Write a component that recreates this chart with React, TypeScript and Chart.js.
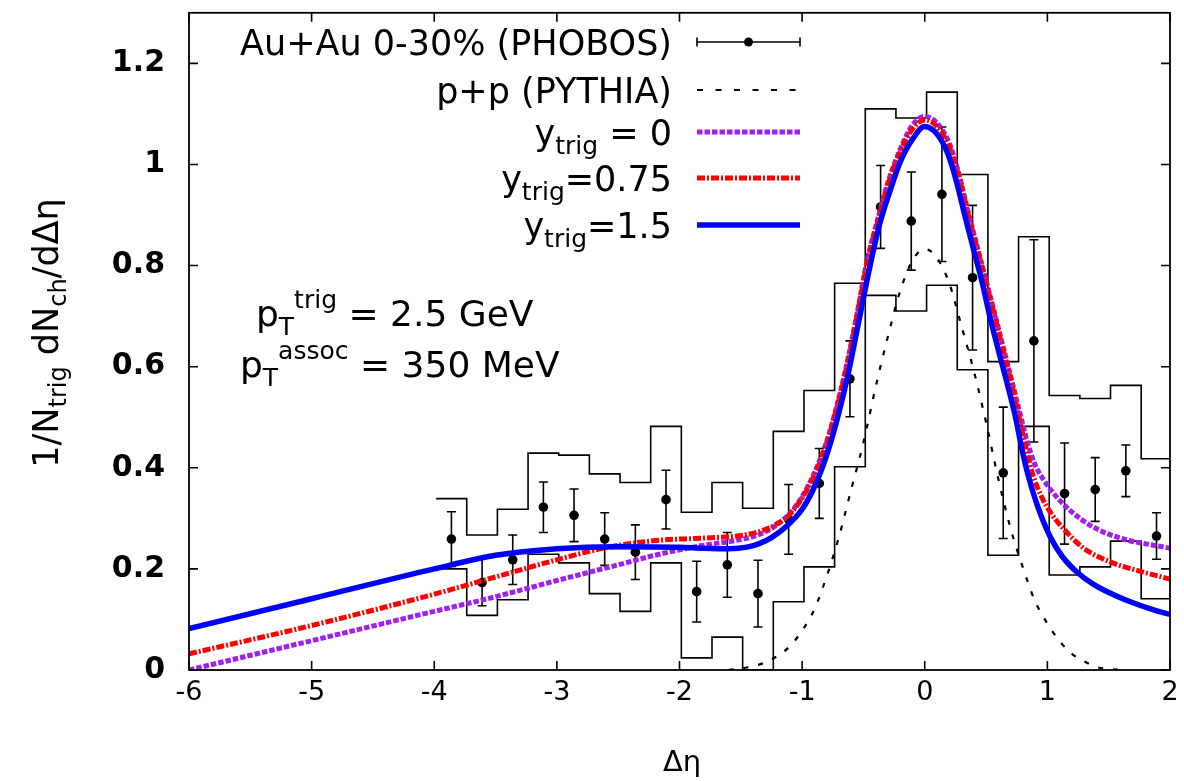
import React, { useEffect, useRef } from "react";
import { Chart, registerables } from "chart.js";

Chart.register(...registerables);

// ---------- data ----------
const xTickValues = [-6, -5, -4, -3, -2, -1, 0, 1, 2];
const xTickLabels = ["-6", "-5", "-4", "-3", "-2", "-1", "0", "1", "2"];
const yTickValues = [0, 0.2, 0.4, 0.6, 0.8, 1, 1.2];
const yTickLabels = ["0", "0.2", "0.4", "0.6", "0.8", "1", "1.2"];

const phobosX = [-3.86, -3.61, -3.36, -3.11, -2.86, -2.61, -2.36, -2.11, -1.86, -1.61, -1.36, -1.11, -0.86, -0.61, -0.36, -0.11, 0.14, 0.39, 0.64, 0.89, 1.14, 1.39, 1.64, 1.89];
const phobosY = [0.259, 0.173, 0.218, 0.322, 0.306, 0.259, 0.233, 0.337, 0.155, 0.208, 0.151, 0.298, 0.369, 0.576, 0.916, 0.888, 0.941, 0.776, 0.39, 0.651, 0.349, 0.357, 0.394, 0.265];
const phobosErr = [0.054, 0.046, 0.049, 0.05, 0.052, 0.052, 0.054, 0.058, 0.06, 0.064, 0.066, 0.069, 0.069, 0.075, 0.082, 0.097, 0.133, 0.143, 0.13, 0.2, 0.1, 0.063, 0.051, 0.046];

// systematic band (step histograms), bin edges and values
const binEdges = [-3.985, -3.735, -3.485, -3.235, -2.985, -2.735, -2.485, -2.235, -1.985, -1.735, -1.485, -1.235, -0.985, -0.735, -0.485, -0.235, 0.015, 0.265, 0.515, 0.765, 1.015, 1.265, 1.515, 1.765, 2.015];
const sysUpper = [0.339, 0.267, 0.318, 0.429, 0.425, 0.388, 0.371, 0.482, 0.312, 0.371, 0.32, 0.472, 0.553, 0.765, 1.11, 1.092, 1.143, 0.98, 0.61, 0.857, 0.543, 0.537, 0.563, 0.418];
const sysLower = [0.2, 0.108, 0.139, 0.229, 0.212, 0.151, 0.116, 0.212, 0.024, 0.065, 0.0, 0.135, 0.204, 0.402, 0.741, 0.71, 0.761, 0.594, 0.227, 0.482, 0.188, 0.204, 0.255, 0.141];

const pythiaCurve: [number, number][] = [
  [-1.6, 0], [-1.45, 0.005], [-1.3, 0.015], [-1.2, 0.028], [-1.1, 0.047], [-1.0, 0.078], [-0.9, 0.12], [-0.8, 0.185],
  [-0.7, 0.263], [-0.6, 0.357], [-0.5, 0.45], [-0.4, 0.56], [-0.3, 0.66], [-0.2, 0.75], [-0.1, 0.81], [0, 0.833],
  [0.1, 0.815], [0.2, 0.765], [0.3, 0.68], [0.4, 0.592], [0.5, 0.49], [0.6, 0.378], [0.7, 0.28], [0.8, 0.203],
  [0.9, 0.136], [1.0, 0.092], [1.1, 0.057], [1.2, 0.032], [1.3, 0.017], [1.4, 0.006], [1.5, 0.002], [1.6, 0],
];

const yTrig0Curve: [number, number][] = [
  [-6, 0.0], [-5, 0.058], [-4, 0.116], [-3.5, 0.145], [-3, 0.177], [-2.5, 0.208], [-2.2, 0.227], [-1.8, 0.247],
  [-1.55, 0.256], [-1.35, 0.268], [-1.2, 0.288], [-1.1, 0.31], [-1.0, 0.343],
  [-0.9, 0.39], [-0.8, 0.452], [-0.72, 0.52], [-0.64, 0.6], [-0.56, 0.695], [-0.47, 0.81], [-0.38, 0.895], [-0.3, 0.965],
  [-0.2, 1.03], [-0.1, 1.078], [0, 1.095], [0.1, 1.082], [0.2, 1.042], [0.28, 0.98], [0.35, 0.91], [0.42, 0.845],
  [0.49, 0.78], [0.56, 0.715], [0.63, 0.648], [0.7, 0.582], [0.77, 0.514], [0.84, 0.448], [0.9, 0.406], [0.97, 0.376],
  [1.11, 0.333], [1.27, 0.299], [1.43, 0.276], [1.65, 0.257], [1.84, 0.248], [2.0, 0.241],
];

const yTrig075Curve: [number, number][] = [
  [-6, 0.032], [-5, 0.088], [-4, 0.15], [-3.5, 0.184], [-3, 0.218], [-2.6, 0.242], [-2.2, 0.256], [-1.8, 0.261],
  [-1.5, 0.266], [-1.32, 0.276], [-1.2, 0.29], [-1.1, 0.308], [-1.0, 0.34],
  [-0.9, 0.385], [-0.8, 0.448], [-0.72, 0.515], [-0.64, 0.595], [-0.56, 0.69], [-0.47, 0.805], [-0.38, 0.89], [-0.3, 0.96],
  [-0.2, 1.025], [-0.1, 1.07], [0, 1.088], [0.1, 1.075], [0.2, 1.035], [0.28, 0.975], [0.35, 0.905], [0.42, 0.84],
  [0.49, 0.775], [0.56, 0.71], [0.63, 0.642], [0.7, 0.575], [0.76, 0.51], [0.82, 0.445], [0.88, 0.387], [0.95, 0.344],
  [1.03, 0.31], [1.13, 0.28], [1.29, 0.242], [1.51, 0.214], [1.73, 0.197], [2.0, 0.18],
];

const yTrig15Curve: [number, number][] = [
  [-6, 0.082], [-5, 0.141], [-4, 0.2], [-3.5, 0.227], [-3, 0.24], [-2.5, 0.244], [-2, 0.243], [-1.8, 0.241],
  [-1.6, 0.24], [-1.45, 0.243], [-1.35, 0.25], [-1.25, 0.262], [-1.12, 0.286],
  [-1.0, 0.318], [-0.9, 0.362], [-0.8, 0.425], [-0.71, 0.5], [-0.63, 0.58], [-0.55, 0.675], [-0.45, 0.795], [-0.37, 0.88],
  [-0.28, 0.95], [-0.2, 1.005], [-0.1, 1.05], [0, 1.075], [0.1, 1.06], [0.19, 1.02], [0.26, 0.965], [0.33, 0.896],
  [0.4, 0.83], [0.47, 0.765], [0.53, 0.7], [0.6, 0.633], [0.67, 0.569], [0.74, 0.5], [0.79, 0.44], [0.84, 0.388],
  [0.92, 0.324], [1.02, 0.265], [1.12, 0.225], [1.24, 0.194], [1.38, 0.169], [1.54, 0.149], [1.72, 0.131], [1.88, 0.118], [2.0, 0.11],
];

// ---------- styling ----------
const FONT = "'DejaVu Sans', 'Liberation Sans', sans-serif";
const PURPLE = "#A020F0";
const RED = "#FF0000";
const BLUE = "#0000FF";
const PHOBOS_INDEX = 4;
const CANVAS_W = 1168;
const CANVAS_H = 773;

type Part = { t: string; size: number; dy: number };

function drawRich(ctx: CanvasRenderingContext2D, parts: Part[], x: number, y: number, align: "left" | "right" | "center", weight = "normal") {
  const widths = parts.map((p) => {
    ctx.font = `${weight} ${p.size}px ${FONT}`;
    return ctx.measureText(p.t).width;
  });
  const total = widths.reduce((a, b) => a + b, 0);
  let cx = align === "right" ? x - total : align === "center" ? x - total / 2 : x;
  ctx.textAlign = "left";
  ctx.textBaseline = "alphabetic";
  parts.forEach((p, i) => {
    ctx.font = `${weight} ${p.size}px ${FONT}`;
    ctx.fillText(p.t, cx, y + p.dy);
    cx += widths[i];
  });
}

const errorBarPlugin = {
  id: "errorBars",
  beforeDatasetDraw(chart: any, args: any) {
    if (args.index !== PHOBOS_INDEX) return;
    const { ctx } = chart;
    const xs = chart.scales.x;
    const ys = chart.scales.y;
    ctx.save();
    ctx.strokeStyle = "#000";
    ctx.lineWidth = 1.6;
    ctx.beginPath();
    phobosX.forEach((xv, i) => {
      const px = xs.getPixelForValue(xv);
      const top = ys.getPixelForValue(phobosY[i] + phobosErr[i]);
      const bot = ys.getPixelForValue(phobosY[i] - phobosErr[i]);
      ctx.moveTo(px, top);
      ctx.lineTo(px, bot);
      ctx.moveTo(px - 4.5, top);
      ctx.lineTo(px + 4.5, top);
      ctx.moveTo(px - 4.5, bot);
      ctx.lineTo(px + 4.5, bot);
    });
    ctx.stroke();
    ctx.restore();
  },
};

const framePlugin = {
  id: "frameTicks",
  afterDatasetsDraw(chart: any) {
    const { ctx, chartArea: a } = chart;
    const xs = chart.scales.x;
    const ys = chart.scales.y;
    const L = 9;
    ctx.save();
    ctx.strokeStyle = "#000";
    ctx.lineWidth = 1.6;
    ctx.beginPath();
    xTickValues.forEach((v) => {
      const px = xs.getPixelForValue(v);
      ctx.moveTo(px, a.bottom);
      ctx.lineTo(px, a.bottom - L);
      ctx.moveTo(px, a.top);
      ctx.lineTo(px, a.top + L);
    });
    yTickValues.forEach((v) => {
      const py = ys.getPixelForValue(v);
      ctx.moveTo(a.left, py);
      ctx.lineTo(a.left + L, py);
      ctx.moveTo(a.right, py);
      ctx.lineTo(a.right - L, py);
    });
    ctx.stroke();
    ctx.lineWidth = 1.8;
    ctx.strokeRect(a.left, a.top, a.right - a.left, a.bottom - a.top);
    ctx.restore();
  },
};

const textPlugin = {
  id: "texts",
  afterDraw(chart: any) {
    const { ctx } = chart;
    ctx.save();
    ctx.fillStyle = "#000";

    // legend
    const textRight = 664;
    const lx0 = 689;
    const lx1 = 792;
    const rows = [34, 82, 124, 170, 217];
    const S = 35;
    const sub = 25;
    const off = 12.5;
    drawRich(ctx, [{ t: "Au+Au 0-30% (PHOBOS)", size: S, dy: 0 }], textRight, rows[0] + off, "right");
    drawRich(ctx, [{ t: "p+p (PYTHIA)", size: S, dy: 0 }], textRight, rows[1] + off, "right");
    drawRich(ctx, [{ t: "y", size: S, dy: 0 }, { t: "trig", size: sub, dy: 9 }, { t: " = 0", size: S, dy: 0 }], textRight, rows[2] + off, "right");
    drawRich(ctx, [{ t: "y", size: S, dy: 0 }, { t: "trig", size: sub, dy: 9 }, { t: "=0.75", size: S, dy: 0 }], textRight, rows[3] + off, "right");
    drawRich(ctx, [{ t: "y", size: S, dy: 0 }, { t: "trig", size: sub, dy: 9 }, { t: "=1.5", size: S, dy: 0 }], textRight, rows[4] + off, "right");

    // legend samples
    ctx.strokeStyle = "#000";
    ctx.lineWidth = 1.6;
    ctx.beginPath();
    ctx.moveTo(lx0, rows[0]);
    ctx.lineTo(lx1, rows[0]);
    ctx.moveTo(lx0, rows[0] - 4.5);
    ctx.lineTo(lx0, rows[0] + 4.5);
    ctx.moveTo(lx1, rows[0] - 4.5);
    ctx.lineTo(lx1, rows[0] + 4.5);
    ctx.stroke();
    ctx.beginPath();
    ctx.arc((lx0 + lx1) / 2, rows[0], 4.5, 0, Math.PI * 2);
    ctx.fill();

    const sample = (y: number, color: string, width: number, dash: number[]) => {
      ctx.save();
      ctx.strokeStyle = color;
      ctx.lineWidth = width;
      ctx.setLineDash(dash);
      ctx.beginPath();
      ctx.moveTo(lx0, y);
      ctx.lineTo(lx1, y);
      ctx.stroke();
      ctx.restore();
    };
    sample(rows[1], "#000", 2, [6, 12.5]);
    sample(rows[2], PURPLE, 5, [5.5, 2]);
    sample(rows[3], RED, 5, [8, 2, 2, 2]);
    sample(rows[4], BLUE, 5.5, []);

    // annotation
    drawRich(ctx, [
      { t: "p", size: 36, dy: 0 },
      { t: "T", size: 25, dy: 9 },
      { t: "trig", size: 25, dy: -18 },
      { t: " = 2.5 GeV", size: 36, dy: 0 },
    ], 248, 318, "left");
    drawRich(ctx, [
      { t: "p", size: 36, dy: 0 },
      { t: "T", size: 25, dy: 9 },
      { t: "assoc", size: 25, dy: -18 },
      { t: " = 350 MeV", size: 36, dy: 0 },
    ], 232, 369, "left");

    // x title
    drawRich(ctx, [{ t: "\u0394\u03b7", size: 29, dy: 0 }], 674, 763, "center");

    // y title (rotated)
    ctx.save();
    ctx.translate(50, 325);
    ctx.rotate(-Math.PI / 2);
    drawRich(ctx, [
      { t: "1/N", size: 35, dy: 0 },
      { t: "trig", size: 24, dy: 8 },
      { t: " dN", size: 35, dy: 0 },
      { t: "ch", size: 24, dy: 8 },
      { t: "/d\u0394\u03b7", size: 35, dy: 0 },
    ], 0, 0, "center");
    ctx.restore();

    ctx.restore();
  },
};

const toXY = (c: [number, number][]) => c.map(([x, y]) => ({ x, y }));
const toSteps = (vals: number[]) => binEdges.map((x, i) => ({ x, y: vals[Math.min(i, vals.length - 1)] }));

export default function App() {
  const ref = useRef<HTMLCanvasElement | null>(null);

  useEffect(() => {
    if (!ref.current) return;
    const chart = new Chart(ref.current, {
      type: "line",
      data: {
        datasets: [
          {
            label: "yTrig15",
            data: toXY(yTrig15Curve),
            borderColor: BLUE,
            borderWidth: 5.5,
            pointRadius: 0,
            cubicInterpolationMode: "monotone",
            fill: false,
          },
          {
            label: "yTrig075",
            data: toXY(yTrig075Curve),
            borderColor: RED,
            borderWidth: 5,
            borderDash: [8, 2, 2, 2],
            pointRadius: 0,
            cubicInterpolationMode: "monotone",
            fill: false,
          },
          {
            label: "yTrig0",
            data: toXY(yTrig0Curve),
            borderColor: PURPLE,
            borderWidth: 5,
            borderDash: [5.5, 2],
            pointRadius: 0,
            cubicInterpolationMode: "monotone",
            fill: false,
          },
          {
            label: "pythia",
            data: toXY(pythiaCurve),
            borderColor: "#000",
            borderWidth: 2.2,
            borderDash: [5, 10],
            pointRadius: 0,
            cubicInterpolationMode: "monotone",
            fill: false,
          },
          {
            label: "Au+Au 0-30% (PHOBOS)",
            data: phobosX.map((x, i) => ({ x, y: phobosY[i] })),
            showLine: false,
            pointRadius: 4.8,
            pointBackgroundColor: "#000",
            pointBorderColor: "#000",
            pointBorderWidth: 0,
          },
          {
            label: "sysUpper",
            data: toSteps(sysUpper),
            borderColor: "#000",
            borderWidth: 1.6,
            stepped: true,
            pointRadius: 0,
            fill: false,
          },
          {
            label: "sysLower",
            data: toSteps(sysLower),
            borderColor: "#000",
            borderWidth: 1.6,
            stepped: true,
            pointRadius: 0,
            fill: false,
          },
        ],
      },
      options: {
        animation: false,
        responsive: false,
        devicePixelRatio: 1,
        parsing: false as any,
        normalized: true,
        layout: { padding: { top: 1, right: 6, left: 0, bottom: 0 } },
        plugins: { legend: { display: false }, tooltip: { enabled: false } },
        events: [],
        scales: {
          x: {
            type: "linear",
            min: -6,
            max: 2,
            grid: { display: false, drawTicks: false },
            border: { display: false },
            afterBuildTicks: (s: any) => {
              s.ticks = xTickValues.map((value) => ({ value }));
            },
            afterFit: (s: any) => {
              s.height = CANVAS_H - 662;
              s.paddingLeft = 0;
              s.paddingRight = 0;
            },
            ticks: {
              autoSkip: false,
              maxRotation: 0,
              padding: 7,
              color: "#000",
              font: { family: FONT, size: 27 },
              callback: (_v: any, i: number) => xTickLabels[i],
            },
          },
          y: {
            type: "linear",
            min: 0,
            max: 1.3,
            grid: { display: false, drawTicks: false },
            border: { display: false },
            afterBuildTicks: (s: any) => {
              s.ticks = yTickValues.map((value) => ({ value }));
            },
            afterFit: (s: any) => {
              s.width = 181;
              s.paddingTop = 0;
              s.paddingBottom = 0;
            },
            ticks: {
              autoSkip: false,
              padding: 24,
              color: "#000",
              font: { family: FONT, size: 30, weight: "bold" },
              callback: (_v: any, i: number) => yTickLabels[i],
            },
          },
        },
      },
      plugins: [errorBarPlugin, framePlugin, textPlugin],
    } as any);
    return () => chart.destroy();
  }, []);

  return (
    <div style={{ width: CANVAS_W, height: CANVAS_H }}>
      <canvas ref={ref} width={CANVAS_W} height={CANVAS_H} style={{ display: "block" }} />
    </div>
  );
}
